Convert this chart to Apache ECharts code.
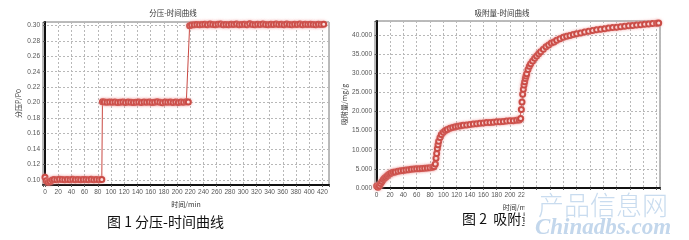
<!DOCTYPE html>
<html><head><meta charset="utf-8">
<script src="https://cdn.jsdelivr.net/npm/echarts@6/dist/echarts.min.js"></script>
<style>html,body{margin:0;padding:0;background:#fff}#c{width:689px;height:240px}</style>
</head><body><div id="c"></div>
<script>
// ---- Chart 1: partial pressure vs time ----
const t1 = [0,2,5,8,11,14,18,22,26,30,34,38,42,46,50,54,58,62,66,70,74,78,82,86,
  87,90,94,98,102,106,110,114,118,122,126,130,134,138,142,146,150,154,158,162,166,170,174,178,182,186,190,194,198,202,206,210,214,217,
  219,222,226,230,234,238,242,246,250,254,258,262,266,270,274,278,282,286,290,294,298,302,306,310,314,318,322,326,330,334,338,342,346,350,354,358,362,366,370,374,378,382,386,390,394,398,402,406,410,414,418,422];
const p1 = [.1034,.099,.097,.098,.100,.1005,.1003,.1008,.1005,.1002,.1007,.1004,.1008,.1003,.1006,.1002,.1007,.1005,.1003,.1008,.1004,.1006,.1002,.1005,
  .2012,.2008,.2005,.2010,.2004,.2007,.2002,.2006,.2010,.2003,.2008,.2005,.2001,.2006,.2009,.2003,.2007,.2004,.2009,.2002,.2006,.2011,.2004,.2000,.2007,.2005,.2010,.2003,.2007,.2002,.2009,.2005,.2012,.2008,
  .2995,.3005,.3008,.3012,.3006,.3010,.3014,.3008,.3016,.3011,.3007,.3013,.3018,.3009,.3012,.3006,.3015,.3010,.3017,.3008,.3012,.3014,.3009,.3019,.3011,.3007,.3013,.3010,.3016,.3012,.3008,.3015,.3011,.3018,.3010,.3013,.3009,.3016,.3012,.3007,.3014,.3011,.3017,.3009,.3013,.3010,.3015,.3012,.3008,.3014,.3011,.3013];

// ---- Chart 2: adsorption amount vs time ----
const t2 = [0,2,4,6,8,10,12,14,16,18,20,22,25,28,32,36,40,44,48,52,56,60,64,68,72,76,80,84,86,
  88,89,90,91,92,93,95,97,100,103,106,110,114,118,122,126,130,135,140,145,150,155,160,165,170,175,180,185,190,195,200,205,210,214,216,
  217,218,219,220,221,222,223,224,225,227,229,231,234,237,240,243,246,250,254,258,262,266,270,275,280,285,290,295,300,306,312,318,324,330,336,342,348,354,360,366,372,378,384,390,396,402,408,414,420,423];
const q2 = [0.5,0.2,0.6,1.2,1.7,2.2,2.6,2.9,3.2,3.5,3.7,3.9,4.1,4.2,4.4,4.5,4.6,4.7,4.8,4.9,4.95,5.0,5.05,5.1,5.15,5.2,5.3,5.4,5.6,
  6.3,7.8,9.0,10.3,11.3,12.2,13.2,14.0,14.6,15.0,15.3,15.6,15.8,16.0,16.15,16.3,16.4,16.5,16.6,16.7,16.8,16.9,17.0,17.1,17.15,17.2,17.3,17.35,17.4,17.5,17.55,17.6,17.7,17.75,18.2,
  20.5,22.5,24.5,25.8,26.9,27.8,28.6,29.3,29.9,31.0,31.8,32.5,33.2,33.9,34.5,35.1,35.6,36.3,36.9,37.4,37.9,38.2,38.6,39.0,39.4,39.7,39.9,40.1,40.3,40.5,40.8,41.0,41.2,41.35,41.5,41.65,41.8,41.95,42.05,42.15,42.3,42.4,42.5,42.6,42.7,42.8,42.9,43.0,43.1,43.15];

// ---- text ----
const title1 = '分压-时间曲线', title2 = '吸附量-时间曲线';
const xName = '时间/min', yName1 = '分压P/P0', yName2 = '吸附量/mg/g';
const caption1 = '图 1 分压-时间曲线', caption2 = '图 2  吸附量-时间曲线';
const wm1 = '产品信息网', wm2 = 'Chinadbs.com';

const zip = (a, b) => a.map((x, i) => [x, b[i]]);
const RED = '#c94a44';
const small = {fontSize: 6.5, color: '#555', fontFamily: 'Liberation Sans'};
const cjk = 'Noto Sans CJK SC';
const near = (v, s) => Math.abs(v / s - Math.round(v / s)) < 1e-6;

function xAxis(gi, min, max, maxLabel) {
  return {type: 'value', gridIndex: gi, min, max, splitNumber: 21,
    name: xName, nameLocation: 'middle', nameGap: 13,
    nameTextStyle: {fontSize: 7, color: '#333', fontFamily: cjk},
    axisLine: {lineStyle: {color: '#111', width: 2}},
    axisTick: {length: 2, lineStyle: {color: '#555'}},
    axisLabel: {...small, margin: 4, hideOverlap: false,
      formatter: v => (near(v, 20) && v >= 0 && v <= maxLabel) ? String(Math.round(v)) : ''},
    splitLine: {show: true, lineStyle: {color: '#b8b8b8', type: [2, 2], width: 1}}};
}
function yAxis(gi, min, max, split, step, dec, name, gap) {
  return {type: 'value', gridIndex: gi, min, max, splitNumber: split,
    name, nameLocation: 'middle', nameGap: gap,
    nameTextStyle: {fontSize: 7, color: '#333', fontFamily: cjk},
    axisLine: {show: true, lineStyle: {color: '#111', width: 2}},
    axisTick: {show: true, length: 2, lineStyle: {color: '#555'}},
    axisLabel: {...small, margin: 3,
      formatter: v => near(v, step) ? v.toFixed(dec) : ''},
    splitLine: {show: true, lineStyle: {color: '#b8b8b8', type: [2, 2], width: 1}}};
}
function series(gi, data) {
  return {type: 'line', xAxisIndex: gi, yAxisIndex: gi, data, symbol: 'emptyCircle', symbolSize: 5,
    showAllSymbol: true, animation: false,
    lineStyle: {color: RED, width: 1},
    itemStyle: {color: RED, borderColor: RED, borderWidth: 0.7, shadowBlur: 3, shadowColor: 'rgba(240,160,160,0.6)'}};
}

const chart = echarts.init(document.getElementById('c'), null, {renderer: 'canvas'});
chart.setOption({
  animation: false,
  backgroundColor: '#fff',
  grid: [
    {left: 43, top: 22, width: 286, height: 163, show: true, borderColor: '#777', borderWidth: 1, backgroundColor: '#fff'},
    {left: 375, top: 21, width: 285, height: 167, show: true, borderColor: '#777', borderWidth: 1, backgroundColor: '#fff'}
  ],
  xAxis: [xAxis(0, -3, 430, 420), xAxis(1, -2.5, 425, 220)],
  yAxis: [yAxis(0, 0.0935, 0.3043, 10, 0.02, 2, yName1, 21), yAxis(1, 0, 43.66, 9, 5, 3, yName2, 26)],
  series: [series(0, zip(t1, p1)), series(1, zip(t2, q2))],
  graphic: [
    {type: 'text', style: {x: 173, y: 13, text: title1, fontSize: 7.5, fontFamily: cjk, fill: '#333', align: 'center', verticalAlign: 'middle'}},
    {type: 'text', style: {x: 502, y: 13, text: title2, fontSize: 7.5, fontFamily: cjk, fill: '#333', align: 'center', verticalAlign: 'middle'}},
    {type: 'text', style: {x: 107, y: 222, text: caption1, fontSize: 14, fontFamily: cjk, fill: '#111', align: 'left', verticalAlign: 'middle'}},
    {type: 'text', style: {x: 462, y: 219, text: caption2, fontSize: 14, fontFamily: cjk, fill: '#111', align: 'left', verticalAlign: 'middle'}},
    {type: 'rect', shape: {x: 524.5, y: 191, width: 170, height: 60}, style: {fill: '#fff'}, z: 50},
    {type: 'text', z: 60, style: {x: 603, y: 205, text: wm1, fontSize: 26, fontFamily: cjk, fontWeight: 300, fill: '#c9dcef', align: 'center', verticalAlign: 'middle'}},
    {type: 'text', z: 60, style: {x: 603, y: 228, text: wm2, fontSize: 23, fontFamily: 'Liberation Serif', fontStyle: 'italic', fontWeight: 'bold', fill: '#c3d7ec', align: 'center', verticalAlign: 'middle'}}
  ]
});
</script></body></html>
